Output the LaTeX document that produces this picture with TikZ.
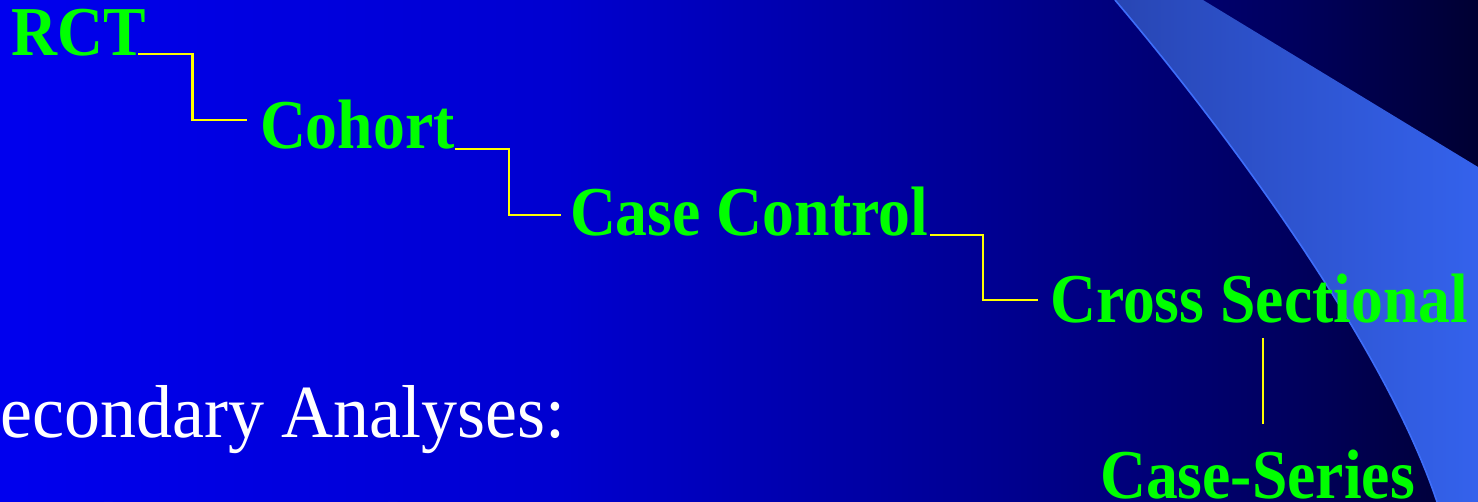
\documentclass[tikz,border=0pt]{standalone}
\usepackage{fontspec}
\newfontfamily\gfont[FakeStretch=0.91]{Liberation Serif Bold}
\newfontfamily\wfont[FakeStretch=0.96]{Liberation Serif}
\definecolor{bgA}{RGB}{0,0,238}
\definecolor{bgB}{RGB}{0,0,208}
\definecolor{bgC}{RGB}{0,0,144}
\definecolor{bgD}{RGB}{0,0,92}
\definecolor{bgE}{RGB}{0,0,50}
\definecolor{swA}{RGB}{40,70,180}
\definecolor{swB}{RGB}{52,98,236}
\definecolor{swEdge}{RGB}{62,110,250}
\definecolor{lgreen}{RGB}{0,255,0}
\definecolor{lyellow}{RGB}{255,255,0}
\begin{document}
\begin{tikzpicture}[x=1pt,y=-1pt,
  lbl/.style={font=\gfont\fontsize{70}{70}\selectfont, text=lgreen, inner sep=0pt, outer sep=0pt, anchor=base west},
  wtxt/.style={font=\wfont\fontsize{75}{75}\selectfont, text=white, inner sep=0pt, outer sep=0pt},
  wtxtb/.style={font=\wfont\fontsize{62}{62}\selectfont, text=white, inner sep=0pt, outer sep=0pt},
  conn/.style={draw=lyellow, line width=2.1pt},
  swedge/.style={draw=swEdge, line width=1.6pt}]
\useasboundingbox (0,0) rectangle (1478,502);
\begin{scope}
\clip (0,0) rectangle (1478,502);
% background gradient
\shade[left color=bgA, right color=bgB] (0,0) rectangle (561,502);
\shade[left color=bgB, right color=bgC] (560,0) rectangle (1001,502);
\shade[left color=bgC, right color=bgD] (1000,0) rectangle (1301,502);
\shade[left color=bgD, right color=bgE] (1300,0) rectangle (1478,502);
% swoosh
\shade[left color=swA, right color=swB] (1115,0) .. controls (1250,160) and (1390,360) .. (1437,502) -- (1478,502) -- (1478,167) -- (1203,0) -- cycle;
\draw[swedge] (1115,0) .. controls (1250,160) and (1390,360) .. (1437,502);
% labels
\node[lbl] (rct) at (12,56) {RCT};
\node[lbl] (cohort) at (260,149) {Cohort};
\node[lbl] (cc) at (570,236) {Case Control};
\node[lbl] (cs) at (1050,323) {Cross Sectional};
\node[lbl] (series) at (1100,498) {Case-Series};
\node[wtxt, anchor=base east] (sec) at (566,437) {Secondary Analyses:};
\node[wtxtb, anchor=base west] (sub) at (42,545) {Subgroup Analyses};
% connectors
\draw[conn] ([xshift=-8pt,yshift=2pt]rct.base east) -- ++(54,0) |- ([xshift=-13pt,yshift=29pt]cohort.base west);
\draw[conn] ([xshift=0pt]cohort.base east) -- ++(54,0) |- ([xshift=-9pt,yshift=21pt]cc.base west);
\draw[conn] ([xshift=2pt,yshift=1pt]cc.base east) -- ++(53,0) |- ([xshift=-12pt,yshift=23pt]cs.base west);
\coordinate (v1) at ([xshift=4pt,yshift=-15pt]cs.base);
\coordinate (v2) at ([yshift=25pt]series.north);
\draw[conn] (v1) -- (v1 |- v2);
\end{scope}
\end{tikzpicture}
\end{document}
